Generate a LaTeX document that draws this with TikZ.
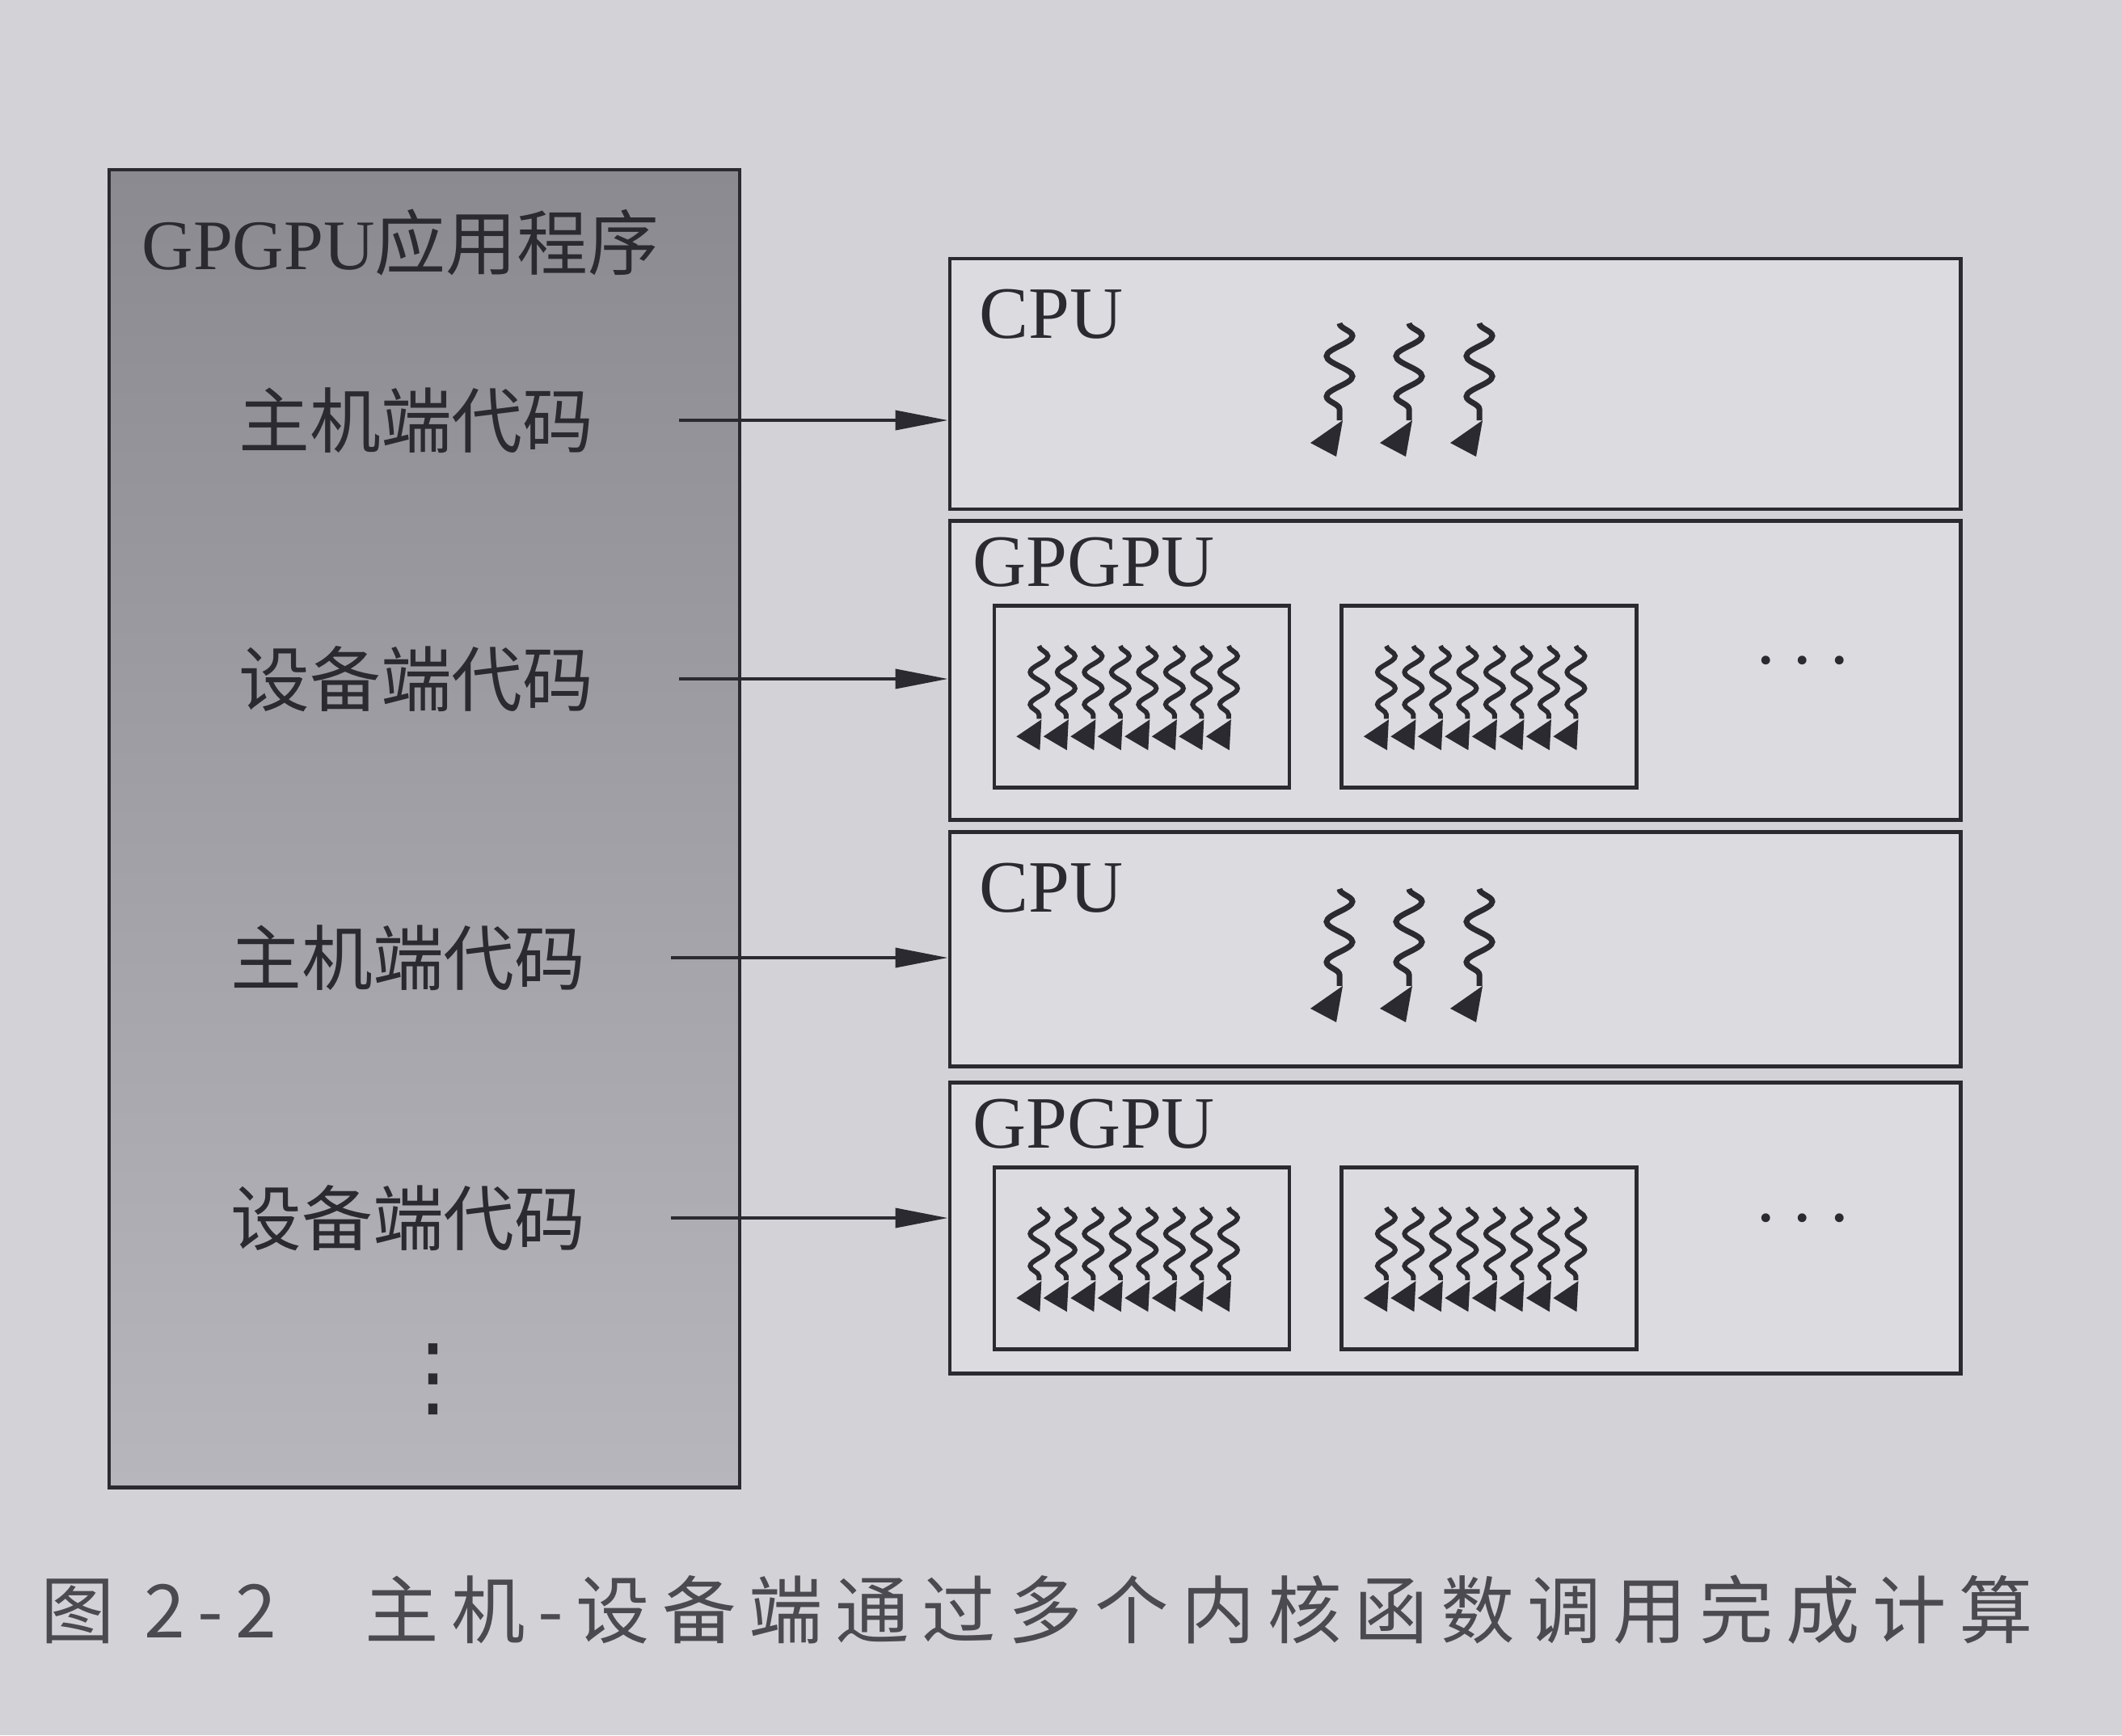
\documentclass[tikz,border=0pt]{standalone}
\usepackage{fontspec}
\setmainfont{Liberation Serif}
\newfontfamily\cjk{Noto Sans CJK SC}
\newfontfamily\cjkcap[LetterSpace=17]{Noto Sans CJK SC}
\newfontfamily\sym{DejaVu Sans}
\usetikzlibrary{arrows.meta,positioning,calc,decorations.pathmorphing}
\definecolor{Paper}{HTML}{D3D3D7}
\definecolor{Sheet}{HTML}{DCDCE0}
\definecolor{Ink}{HTML}{2A2A30}
\definecolor{Shade}{HTML}{8A8A90}
\definecolor{ShadeLow}{HTML}{B6B6BC}
\definecolor{Cap}{HTML}{4A4A50}

\begin{document}
\begin{tikzpicture}[
  box/.style={draw=Ink,line width=1.4pt,fill=Sheet,inner sep=0pt,minimum width=12.5cm},
  core/.style={draw=Ink,line width=1.3pt,inner sep=0pt,minimum width=3.65cm,minimum height=2.25cm},
  zh/.style={font=\cjk\fontsize{25}{30}\selectfont,text=Ink,inner sep=0pt},
  en/.style={font=\fontsize{26}{30}\selectfont,text=Ink,inner sep=0pt,anchor=north west},
  conn/.style={-{Triangle[length=6.5mm,width=2.4mm]},line width=1.1pt,draw=Ink,shorten <=1.05cm},
  wig/.style={draw=Ink,line width=2pt,decorate,decoration={snake,amplitude=1.6mm,segment length=5mm}},
  wigs/.style={draw=Ink,line width=1.7pt,decorate,decoration={snake,amplitude=1.1mm,segment length=4mm}}]
\useasboundingbox[fill=Paper] (0,0) rectangle (26.25,-21.47);

% application
\node[draw=Ink,line width=1.4pt,top color=Shade,bottom color=ShadeLow,minimum width=7.8cm,minimum height=16.3cm,inner sep=0pt] (app) at (5.25,-10.25) {};
\node[zh,anchor=west] (title) at (1.75,-3.0) {{\rmfamily GPGPU}应用程序};
\node[zh] (hostA) at (5.15,-5.2) {主机端代码};
\node[zh] (devA) at (5.15,-8.4) {设备端代码};
\node[zh] (hostB) at (5.05,-11.85) {主机端代码};
\node[zh] (devB) at (5.05,-15.07) {设备端代码};
\node[font=\sym\fontsize{31}{36}\selectfont,text=Ink,inner sep=0pt] (more) at (5.36,-17.07) {⋮};

% host / device
\node[box,minimum height=3.1cm] (cpuA) at (18,-4.75) {};
\node[box,minimum height=3.7cm,below=1mm of cpuA] (gpuA) {};
\node[box,minimum height=2.9cm,below=1mm of gpuA] (cpuB) {};
\node[box,minimum height=3.6cm,below=1.5mm of cpuB] (gpuB) {};
\node[en] (cpuAlbl) at ([shift={(.38,-.4)}]cpuA.north west) {CPU};
\node[en] (gpuAlbl) at ([shift={(.3,-.22)}]gpuA.north west) {GPGPU};
\node[en] (cpuBlbl) at ([shift={(.38,-.4)}]cpuB.north west) {CPU};
\node[en] (gpuBlbl) at ([shift={(.3,-.22)}]gpuB.north west) {GPGPU};

\node[core,below right=1.05cm and .55cm of gpuA.north west] (gpuAl) {};
\node[core,right=.6cm of gpuAl] (gpuAr) {};
\node[core,below right=1.05cm and .55cm of gpuB.north west] (gpuBl) {};
\node[core,right=.6cm of gpuBl] (gpuBr) {};
\node[font=\fontsize{26}{30}\selectfont,text=Ink,inner sep=0pt] (gpuAdots) at ([xshift=4.3cm]gpuA.center) {·\,·\,·};
\node[font=\fontsize{26}{30}\selectfont,text=Ink,inner sep=0pt] (gpuBdots) at ([xshift=4.3cm]gpuB.center) {·\,·\,·};

% threads
\foreach \b in {cpuA,cpuB}
  \foreach \dx in {-1.43,-.57,.3}{
    \draw[wig] ([shift={(\dx,.75)}]\b.center) -- ([shift={(\dx,-.45)}]\b.center);
    \fill[Ink] ([shift={(\dx,-.45)}]\b.center) +(.04,0) -- +(-.36,-.28) -- +(-.04,-.45) -- cycle;
  }
\foreach \b in {gpuAl,gpuAr,gpuBl,gpuBr}
  \foreach \k in {0,...,7}{
    \draw[wigs] ([shift={(-1.27+.335*\k,.63)}]\b.center) -- ([shift={(-1.27+.335*\k,-.27)}]\b.center);
    \fill[Ink] ([shift={(-1.27+.335*\k,-.27)}]\b.center) +(.03,-.01) -- +(-.28,-.22) -- +(.01,-.39) -- cycle;
  }

\draw[conn] (hostA.east) -- (hostA.east -| cpuA.west);
\draw[conn] (devA.east) -- (devA.east -| gpuA.west);
\draw[conn] (hostB.east) -- (hostB.east -| cpuB.west);
\draw[conn] (devB.east) -- (devB.east -| gpuB.west);

\node[font=\cjkcap\fontsize{26}{30}\selectfont,text=Cap,anchor=west,inner sep=0pt] (caption) at (0.5,-19.92) {图 2-2\hspace{1.2em}主机-设备端通过多个内核函数调用完成计算};
\end{tikzpicture}
\end{document}
